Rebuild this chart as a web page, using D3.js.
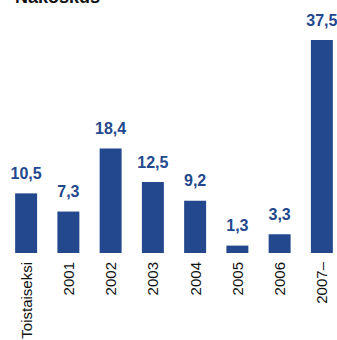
<!DOCTYPE html>
<html>
<head>
<meta charset="utf-8">
<script src="https://cdn.jsdelivr.net/npm/d3@7"></script>
<style>
  html, body { margin: 0; padding: 0; background: #fff; }
  svg { display: block; }
</style>
</head>
<body>
<div id="chart"></div>
<script>
// Luokat ja arvot
const categories = ["Toistaiseksi", "2001", "2002", "2003", "2004", "2005", "2006", "2007–"];
const values = [10.5, 7.3, 18.4, 12.5, 9.2, 1.3, 3.3, 37.5];
const title = "Nakoskus";

const width = 337;
const height = 340;
const baseY = 253; // nollataso
const barColor = "#23488e";

const svg = d3
  .select("#chart")
  .append("svg")
  .attr("width", width)
  .attr("height", height)
  .attr("viewBox", `0 0 ${width} ${height}`);

const xScale = d3
  .scaleBand()
  .domain(categories)
  .range([5, 343])
  .paddingInner(0.48)
  .paddingOuter(0.24);

const yScale = d3
  .scaleLinear()
  .domain([0, 37.5])
  .range([baseY, 40]);

// Otsikko (leikkautuu yläreunasta)
svg
  .append("text")
  .attr("x", 15)
  .attr("y", 3)
  .attr("font-family", "Liberation Sans, Arial, sans-serif")
  .attr("font-weight", "bold")
  .attr("font-size", "18px")
  .attr("fill", "#111")
  .text(title);

const bars = svg.append("g").attr("class", "bars");

bars
  .selectAll("rect")
  .data(values)
  .join("rect")
  .attr("x", (d, i) => xScale(categories[i]))
  .attr("y", (d) => yScale(d))
  .attr("width", xScale.bandwidth())
  .attr("height", (d) => baseY - yScale(d))
  .attr("fill", barColor);

// Arvot palkkien yläpuolelle
bars
  .selectAll("text")
  .data(values)
  .join("text")
  .attr("x", (d, i) => xScale(categories[i]) + xScale.bandwidth() / 2)
  .attr("y", (d) => yScale(d) - 14.5)
  .attr("text-anchor", "middle")
  .attr("font-family", "Liberation Sans, Arial, sans-serif")
  .attr("font-weight", "bold")
  .attr("font-size", "16px")
  .attr("fill", barColor)
  .text((d) => d3.format(".1f")(d).replace(".", ","));

// X-akselin nimiöt pystyyn
const xAxis = svg
  .append("g")
  .attr("transform", `translate(0, ${baseY})`)
  .call(d3.axisBottom(xScale).tickSize(0).tickPadding(0));

xAxis.select(".domain").remove();

xAxis
  .selectAll("text")
  .attr("transform", "rotate(-90)")
  .attr("x", -9)
  .attr("y", 0)
  .attr("dy", "0.36em")
  .attr("text-anchor", "end")
  .attr("font-family", "Liberation Sans, Arial, sans-serif")
  .attr("font-size", "15px")
  .attr("fill", "#111");
</script>
</body>
</html>
